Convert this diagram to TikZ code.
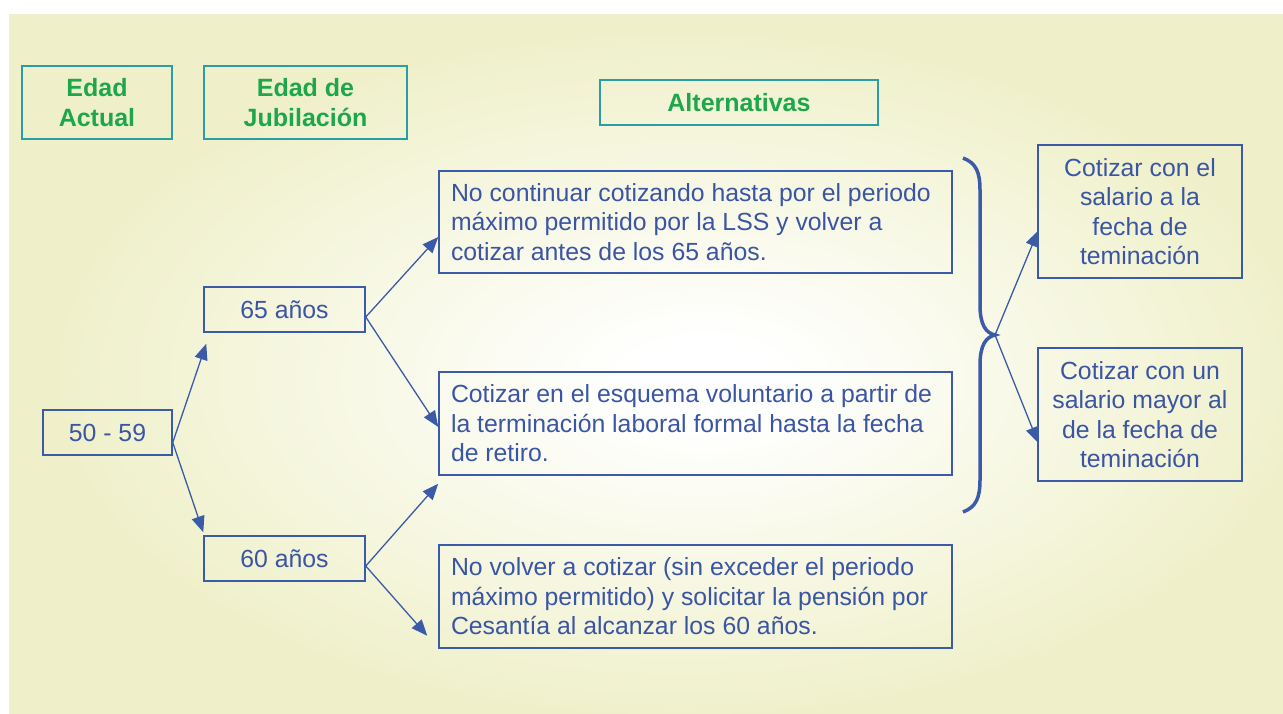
\documentclass[tikz,border=0pt]{standalone}
\usepackage{fontspec}
\setmainfont{Liberation Sans}
\usetikzlibrary{arrows.meta, positioning}
\definecolor{boxblue}{HTML}{3B5BA8}
\definecolor{textblue}{HTML}{3A55A4}
\definecolor{headgreen}{HTML}{1EA64B}
\definecolor{headteal}{HTML}{2A9EA5}
\definecolor{bgyellow}{HTML}{EFF0C9}
\pgfdeclareradialshading{bgglow}{\pgfpoint{2.5bp}{-1.5bp}}{color(0bp)=(white); color(3bp)=(white); color(25bp)=(bgyellow); color(50bp)=(bgyellow)}

\begin{document}
\begin{tikzpicture}[
    x=1pt, y=-1pt,
    head/.style={draw=headteal, line width=1.5pt, text=headgreen, font=\fontsize{25}{29.5}\selectfont\bfseries, align=center, inner sep=0pt},
    stage/.style={draw=boxblue, line width=1.5pt, text=textblue, font=\fontsize{24.8}{29.5}\selectfont, align=center, inner sep=0pt},
    alt/.style={stage, align=flush left, text width=489pt, inner xsep=12pt},
    msg/.style={-{Triangle[length=16pt,width=13pt]}, line width=1.3pt, boxblue},
]
    \useasboundingbox (0,0) rectangle (1283,713);
    \shade[shading=bgglow] (9,14) rectangle (1283,713);

    % Column headers
    \node[head, minimum width=150pt, minimum height=73pt] (actual) at (97,102.5) {Edad\\Actual};
    \node[head, minimum width=203pt, minimum height=73pt] (jubil) at (305.5,102.5) {Edad de\\Jubilación};
    \node[head, minimum width=278pt, minimum height=45pt] (altern) at (739,102.5) {Alternativas};

    % Ages
    \node[stage, minimum width=129pt, minimum height=45pt] (rng) at (107.5,432.5) {50 - 59};
    \node[stage, minimum width=161pt, minimum height=45pt] (a65) at (284.5,309.5) {65 años};
    \node[stage, minimum width=161pt, minimum height=45pt] (a60) at (284.5,558.5) {60 años};

    % Alternatives
    \node[alt, minimum height=102pt] (altA) at (695.5,222) {No continuar cotizando hasta por el periodo\\máximo permitido por la LSS y volver a\\cotizar antes de los 65 años.};
    \node[alt, minimum height=103pt] (altB) at (695.5,423.5) {Cotizar en el esquema voluntario a partir de\\la terminación laboral formal hasta la fecha\\de retiro.};
    \node[alt, minimum height=103pt] (altC) at (695.5,596.5) {No volver a cotizar (sin exceder el periodo\\máximo permitido) y solicitar la pensión por\\Cesantía al alcanzar los 60 años.};

    % Salary options
    \node[stage, minimum width=204pt, minimum height=133pt] (sal1) at (1140,211.5) {Cotizar con el\\salario a la\\fecha de\\teminación};
    \node[stage, minimum width=204pt, minimum height=133pt] (sal2) at (1140,414.5) {Cotizar con un\\salario mayor al\\de la fecha de\\teminación};

    % Brace
    \draw[boxblue, line width=3.5pt] (963,158) .. controls (976,163) and (980,172) .. (980,190) -- (980,305)
        .. controls (980,325) and (986,333) .. (995,335) .. controls (986,337) and (980,345) .. (980,365)
        -- (980,480) .. controls (980,498) and (976,507) .. (963,512);
    \coordinate (bracetip) at (995,335);

    % Arrows
    \draw[msg] ([shift={(0,10)}]rng.east) -- ([shift={(3,11)}]a65.south west);
    \draw[msg] ([shift={(0,10)}]rng.east) -- ([shift={(0,-3)}]a60.north west);
    \draw[msg] ([shift={(0,7.5)}]a65.east) -- ([shift={(0,15)}]altA.west);
    \draw[msg] ([shift={(0,7.5)}]a65.east) -- ([shift={(0,3.5)}]altB.west);
    \draw[msg] ([shift={(0,7.5)}]a60.east) -- ([shift={(0,8)}]altB.south west);
    \draw[msg] ([shift={(0,7.5)}]a60.east) -- ([shift={(-11,-13)}]altC.south west);
    \draw[msg] (bracetip) -- ([shift={(1,19)}]sal1.west);
    \draw[msg] (bracetip) -- ([shift={(1,28.5)}]sal2.west);

\end{tikzpicture}
\end{document}
